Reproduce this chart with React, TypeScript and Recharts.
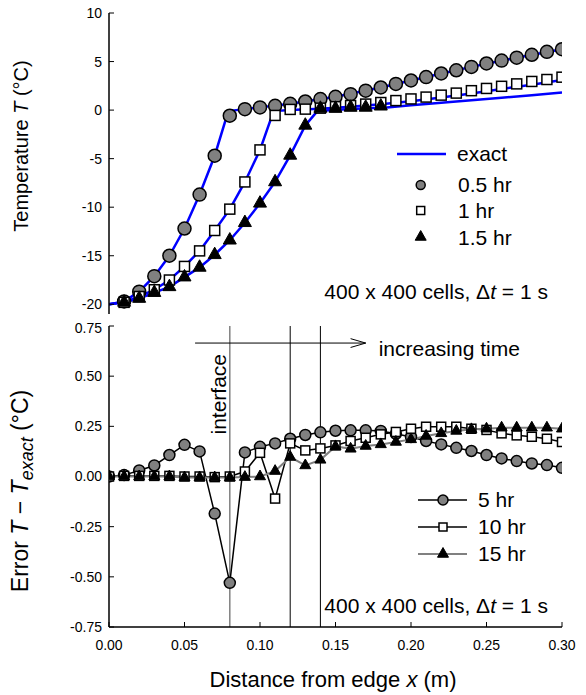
import React from 'react';
import {
  ComposedChart,
  Line,
  Scatter,
  XAxis,
  YAxis,
  ReferenceLine,
  ReferenceDot,
  Legend,
  Label,
} from 'recharts';

const FONT = '"Liberation Sans", Arial, Helvetica, sans-serif';
const BLUE = '#0000ff';
const GRAY = '#808080';

// ---------- data ----------
const xTicks = [0, 0.05, 0.1, 0.15, 0.2, 0.25, 0.3];
const tempTicks = [-20, -15, -10, -5, 0, 5, 10];
const errTicks = [-0.75, -0.5, -0.25, 0, 0.25, 0.5, 0.75];

// marker positions (m)
const markerX = [
  0.01, 0.02, 0.03, 0.04, 0.05, 0.06, 0.07, 0.08, 0.09, 0.1, 0.11, 0.12, 0.13, 0.14, 0.15,
  0.16, 0.17, 0.18, 0.19, 0.2, 0.21, 0.22, 0.23, 0.24, 0.25, 0.26, 0.27, 0.28, 0.29, 0.3,
];
const temp05hr = [
  -19.7, -18.7, -17.1, -15.0, -12.2, -8.7, -4.7, -0.58, 0.1, 0.28, 0.44, 0.65, 0.89, 1.13, 1.37,
  1.64, 2.0, 2.33, 2.7, 3.05, 3.4, 3.77, 4.1, 4.45, 4.8, 5.1, 5.4, 5.7, 6.0, 6.27,
];
const temp1hr = [
  -19.8, -19.2, -18.5, -17.5, -16.1, -14.5, -12.4, -10.2, -7.4, -4.1, -0.55, 0.07, 0.1, 0.2, 0.35,
  0.47, 0.62, 0.78, 0.98, 1.15, 1.34, 1.54, 1.75, 2.0, 2.23, 2.45, 2.7, 2.95, 3.15, 3.39,
];
const temp15hr = [
  -19.8, -19.4, -18.8, -18.2, -17.2, -16.2, -14.9, -13.4, -11.6, -9.6, -7.4, -4.66, -1.57, 0.17,
  0.17, 0.28, 0.28, 0.4,
];

// exact solutions
const exact05X = [0, 0.01, 0.02, 0.03, 0.04, 0.05, 0.06, 0.07, 0.079, 0.09, 0.1, 0.12, 0.15, 0.18, 0.21, 0.24, 0.27, 0.3];
const exact05T = [-20, -19.7, -18.7, -17.1, -15.0, -12.2, -8.7, -4.7, -0.1, 0.1, 0.28, 0.65, 1.37, 2.33, 3.4, 4.45, 5.4, 6.27];
const exact1X = [0, 0.01, 0.02, 0.03, 0.04, 0.05, 0.06, 0.07, 0.08, 0.09, 0.1, 0.109, 0.12, 0.14, 0.16, 0.18, 0.2, 0.22, 0.24, 0.26, 0.28, 0.3];
const exact1T = [-20, -19.8, -19.2, -18.5, -17.5, -16.1, -14.5, -12.4, -10.2, -7.4, -4.1, -0.1, 0.02, 0.15, 0.35, 0.6, 0.92, 1.3, 1.72, 2.18, 2.62, 3.1];
const exact15X = [0, 0.01, 0.02, 0.03, 0.04, 0.05, 0.06, 0.07, 0.08, 0.09, 0.1, 0.11, 0.12, 0.13, 0.138, 0.16, 0.184, 0.2, 0.22, 0.24, 0.26, 0.28, 0.3];
const exact15T = [-20, -19.8, -19.4, -18.8, -18.2, -17.2, -16.2, -14.9, -13.4, -11.6, -9.6, -7.4, -4.66, -1.57, -0.1, 0.12, 0.28, 0.49, 0.75, 1.01, 1.27, 1.54, 1.8];

// error panel
const errX = [
  0, 0.01, 0.02, 0.03, 0.04, 0.05, 0.06, 0.07, 0.08, 0.09, 0.1, 0.11, 0.12, 0.13, 0.14, 0.15,
  0.16, 0.17, 0.18, 0.19, 0.2, 0.21, 0.22, 0.23, 0.24, 0.25, 0.26, 0.27, 0.28, 0.29, 0.3,
];
const err5hr = [
  0.0, 0.007, 0.03, 0.055, 0.107, 0.158, 0.125, -0.185, -0.53, 0.12, 0.148, 0.165, 0.188, 0.207,
  0.22, 0.228, 0.23, 0.23, 0.227, 0.213, 0.197, 0.177, 0.16, 0.143, 0.127, 0.107, 0.09, 0.077,
  0.065, 0.057, 0.043,
];
const err10hr = [
  0.0, 0.003, 0.003, 0.003, 0.003, 0.0, 0.0, -0.003, 0.0, 0.025, 0.118, -0.11, 0.165, 0.13, 0.14,
  0.155, 0.177, 0.193, 0.21, 0.222, 0.238, 0.248, 0.248, 0.248, 0.238, 0.232, 0.215, 0.205,
  0.198, 0.188, 0.172,
];
const err15hr = [
  0.0, 0.0, 0.0, 0.0, 0.0, -0.005, -0.005, -0.005, -0.005, -0.003, 0.0, 0.027, 0.097, 0.055,
  0.083, 0.15, 0.138, 0.152, 0.16, 0.172, 0.185, 0.202, 0.215, 0.227, 0.235, 0.238, 0.243, 0.243,
  0.243, 0.243, 0.238,
];

const interfaceX = 0.08;
const markerLinesX = [0.12, 0.14];

// annotation anchors (data coords)
const arrowStart = { x: 0.057, y: 0.665 };
const arrowEnd = { x: 0.17, y: 0.665 };
const arrowHead = { dx: 0.01, dy: 0.022 };
const timeLabel = { x: 0.1786, y: 0.6 };
const interfaceLabel = { x: 0.0777, y: 0.41 };
const topNote = { x: 0.2907, y: -19.5 };
const botNote = { x: 0.2907, y: -0.682 };

const pts = (xs: number[], ys: number[]) => ys.map((y, i) => ({ x: xs[i], y }));

// ---------- marker shapes ----------
const Circ = ({ cx, cy, r }: any) => (
  <circle cx={cx} cy={cy} r={r} fill={GRAY} stroke="#000" strokeWidth={1.5} />
);
const Sq = ({ cx, cy, s }: any) => (
  <rect x={cx - s / 2} y={cy - s / 2} width={s} height={s} fill="#fff" stroke="#000" strokeWidth={1.5} />
);
const Tri = ({ cx, cy, w }: any) => {
  const h = w * 0.88;
  return (
    <path
      d={`M${cx},${cy - (2 * h) / 3} L${cx - w / 2},${cy + h / 3} L${cx + w / 2},${cy + h / 3} Z`}
      fill="#000"
      stroke="#000"
      strokeWidth={1}
      strokeLinejoin="round"
    />
  );
};

const tickStyle = { fontSize: 14, fill: '#000', fontFamily: FONT };
const txt = { fontFamily: FONT, fill: '#000' };

const TopLegend = () => (
  <svg width={170} height={115} style={{ overflow: 'visible' }}>
    <line x1={7} x2={56} y1={14} y2={14} stroke={BLUE} strokeWidth={2.5} />
    <text x={67} y={21} fontSize={21} {...txt}>exact</text>
    <Circ cx={30.7} cy={45} r={4.5} />
    <text x={68} y={52} fontSize={21} {...txt}>0.5 hr</text>
    <Sq cx={30.7} cy={70.5} s={8} />
    <text x={68} y={78} fontSize={21} {...txt}>1 hr</text>
    <Tri cx={30.7} cy={97} w={11} />
    <text x={68} y={105} fontSize={21} {...txt}>1.5 hr</text>
  </svg>
);

const BottomLegend = () => (
  <svg width={140} height={90} style={{ overflow: 'visible' }}>
    <line x1={8} x2={57} y1={15} y2={15} stroke="#000" strokeWidth={1.5} />
    <Circ cx={33} cy={15} r={5} />
    <text x={68} y={22} fontSize={21} {...txt}>5 hr</text>
    <line x1={8} x2={57} y1={42} y2={42} stroke="#000" strokeWidth={1.5} />
    <Sq cx={33} cy={42} s={8} />
    <text x={68} y={49} fontSize={21} {...txt}>10 hr</text>
    <line x1={8} x2={57} y1={69} y2={69} stroke={GRAY} strokeWidth={2} />
    <Tri cx={33} cy={69} w={11} />
    <text x={68} y={76} fontSize={21} {...txt}>15 hr</text>
  </svg>
);

const NoteText = ({ cx, cy }: any) => (
  <text x={cx} y={cy} textAnchor="end" fontSize={21} {...txt}>
    400 x 400 cells, Δ<tspan fontStyle="italic">t</tspan> = 1 s
  </text>
);

export default function App() {
  const exact05 = pts(exact05X, exact05T);
  const exact1 = pts(exact1X, exact1T);
  const exact15 = pts(exact15X, exact15T);
  const m05 = pts(markerX, temp05hr);
  const m1 = pts(markerX, temp1hr);
  const m15 = pts(markerX, temp15hr);
  const e5 = pts(errX, err5hr);
  const e10 = pts(errX, err10hr);
  const e15 = pts(errX, err15hr);

  return (
    <div style={{ position: 'absolute', left: 0, top: 0, width: 586, height: 695, background: '#fff' }}>
      {/* ---------- TOP PANEL ---------- */}
      <div style={{ position: 'absolute', left: 0, top: 0 }}>
        <ComposedChart width={586} height={320} margin={{ top: 13, right: 24, bottom: 6, left: 0 }}>
          <XAxis
            type="number"
            dataKey="x"
            domain={[0, 0.3]}
            ticks={xTicks}
            height={0}
            tickSize={-5}
            tickFormatter={() => ''}
            axisLine={{ stroke: '#000', strokeWidth: 1.5 }}
            tickLine={{ stroke: '#000' }}
            allowDataOverflow
          />
          <XAxis xAxisId="top" orientation="top" type="number" domain={[0, 0.3]} height={0} tick={false} tickLine={false} axisLine={{ stroke: '#000', strokeWidth: 1.5 }} />
          <YAxis
            type="number"
            domain={[-21, 10]}
            ticks={tempTicks}
            width={109}
            tickSize={-5}
            tickMargin={12}
            tick={tickStyle}
            axisLine={{ stroke: '#000', strokeWidth: 1.5 }}
            tickLine={{ stroke: '#000' }}
            allowDataOverflow
          >
            <Label
              content={() => (
                <text x={28} y={146} transform="rotate(-90 28 146)" textAnchor="middle" fontSize={20} {...txt}>
                  Temperature <tspan fontStyle="italic">T</tspan> (°C)
                </text>
              )}
            />
          </YAxis>
          <YAxis yAxisId="right" orientation="right" width={0} domain={[0, 1]} tick={false} tickLine={false} axisLine={{ stroke: '#000', strokeWidth: 1.5 }} />

          <Line data={exact05} dataKey="y" type="linear" stroke={BLUE} strokeWidth={2.5} dot={false} isAnimationActive={false} legendType="none" />
          <Line data={exact1} dataKey="y" type="linear" stroke={BLUE} strokeWidth={2.5} dot={false} isAnimationActive={false} legendType="none" />
          <Line data={exact15} dataKey="y" type="linear" stroke={BLUE} strokeWidth={2.5} dot={false} isAnimationActive={false} legendType="none" />

          <Scatter data={m05} dataKey="y" isAnimationActive={false} shape={(p: any) => <Circ cx={p.cx} cy={p.cy} r={6.5} />} />
          <Scatter data={m1} dataKey="y" isAnimationActive={false} shape={(p: any) => <Sq cx={p.cx} cy={p.cy} s={10} />} />
          <Scatter data={m15} dataKey="y" isAnimationActive={false} shape={(p: any) => <Tri cx={p.cx} cy={p.cy} w={13} />} />

          <ReferenceDot x={topNote.x} y={topNote.y} r={0} ifOverflow="visible" shape={(p: any) => <NoteText cx={p.cx} cy={p.cy} />} />

          <Legend
            layout="vertical"
            align="center"
            verticalAlign="middle"
            wrapperStyle={{ left: 390, top: 140, width: 170, height: 115 }}
            content={() => <TopLegend />}
          />
        </ComposedChart>
      </div>

      {/* ---------- BOTTOM PANEL ---------- */}
      <div style={{ position: 'absolute', left: 0, top: 320 }}>
        <ComposedChart width={586} height={375} margin={{ top: 6, right: 24, bottom: 0, left: 0 }}>
          <XAxis
            type="number"
            dataKey="x"
            domain={[0, 0.3]}
            ticks={xTicks}
            height={68}
            tickSize={-5}
            tickMargin={18}
            tick={tickStyle}
            tickFormatter={(v: number) => v.toFixed(2)}
            axisLine={{ stroke: '#000', strokeWidth: 1.5 }}
            tickLine={{ stroke: '#000' }}
            allowDataOverflow
          >
            <Label
              content={() => (
                <text x={333} y={367} textAnchor="middle" fontSize={22} {...txt}>
                  Distance from edge <tspan fontStyle="italic">x</tspan> (m)
                </text>
              )}
            />
          </XAxis>
          <XAxis xAxisId="top" orientation="top" type="number" domain={[0, 0.3]} height={0} tick={false} tickLine={false} axisLine={{ stroke: '#000', strokeWidth: 1.5 }} />
          <YAxis
            type="number"
            domain={[-0.75, 0.75]}
            ticks={errTicks}
            width={109}
            tickSize={-5}
            tickMargin={12}
            tick={tickStyle}
            tickFormatter={(v: number) => v.toFixed(2)}
            axisLine={{ stroke: '#000', strokeWidth: 1.5 }}
            tickLine={{ stroke: '#000' }}
            allowDataOverflow
          >
            <Label
              content={() => (
                <text x={28} y={171} transform="rotate(-90 28 171)" textAnchor="middle" fontSize={23} {...txt}>
                  Error <tspan fontStyle="italic">T</tspan> − <tspan fontStyle="italic">T</tspan>
                  <tspan fontStyle="italic" fontSize={18} dy={5}>exact</tspan>
                  <tspan dy={-5}> (°C)</tspan>
                </text>
              )}
            />
          </YAxis>
          <YAxis yAxisId="right" orientation="right" width={0} domain={[0, 1]} tick={false} tickLine={false} axisLine={{ stroke: '#000', strokeWidth: 1.5 }} />

          <ReferenceLine x={interfaceX} stroke={GRAY} strokeWidth={1.5} />
          {markerLinesX.map((v) => (
            <ReferenceLine key={v} x={v} stroke="#000" strokeWidth={1} />
          ))}
          <ReferenceLine segment={[arrowStart, arrowEnd]} stroke="#000" strokeWidth={1} />
          <ReferenceLine
            segment={[{ x: arrowEnd.x - arrowHead.dx, y: arrowEnd.y + arrowHead.dy }, arrowEnd]}
            stroke="#000"
            strokeWidth={1}
          />
          <ReferenceLine
            segment={[{ x: arrowEnd.x - arrowHead.dx, y: arrowEnd.y - arrowHead.dy }, arrowEnd]}
            stroke="#000"
            strokeWidth={1}
          />

          <Line
            data={e5}
            dataKey="y"
            type="linear"
            stroke="#000"
            strokeWidth={1.5}
            isAnimationActive={false}
            dot={(p: any) => <Circ key={`c${p.index}`} cx={p.cx} cy={p.cy} r={5.5} />}
          />
          <Line
            data={e10}
            dataKey="y"
            type="linear"
            stroke="#000"
            strokeWidth={1.5}
            isAnimationActive={false}
            dot={(p: any) => <Sq key={`s${p.index}`} cx={p.cx} cy={p.cy} s={9} />}
          />
          <Line
            data={e15}
            dataKey="y"
            type="linear"
            stroke={GRAY}
            strokeWidth={2}
            isAnimationActive={false}
            dot={(p: any) => <Tri key={`t${p.index}`} cx={p.cx} cy={p.cy} w={11} />}
          />

          <ReferenceDot
            x={timeLabel.x}
            y={timeLabel.y}
            r={0}
            ifOverflow="visible"
            shape={(p: any) => (
              <text x={p.cx} y={p.cy} fontSize={21} {...txt}>increasing time</text>
            )}
          />
          <ReferenceDot
            x={interfaceLabel.x}
            y={interfaceLabel.y}
            r={0}
            ifOverflow="visible"
            shape={(p: any) => (
              <text x={p.cx} y={p.cy} transform={`rotate(-90 ${p.cx} ${p.cy})`} textAnchor="middle" fontSize={21} {...txt}>
                interface
              </text>
            )}
          />
          <ReferenceDot x={botNote.x} y={botNote.y} r={0} ifOverflow="visible" shape={(p: any) => <NoteText cx={p.cx} cy={p.cy} />} />

          <Legend
            layout="vertical"
            align="center"
            verticalAlign="middle"
            wrapperStyle={{ left: 410, top: 165, width: 140, height: 90 }}
            content={() => <BottomLegend />}
          />
        </ComposedChart>
      </div>
    </div>
  );
}
